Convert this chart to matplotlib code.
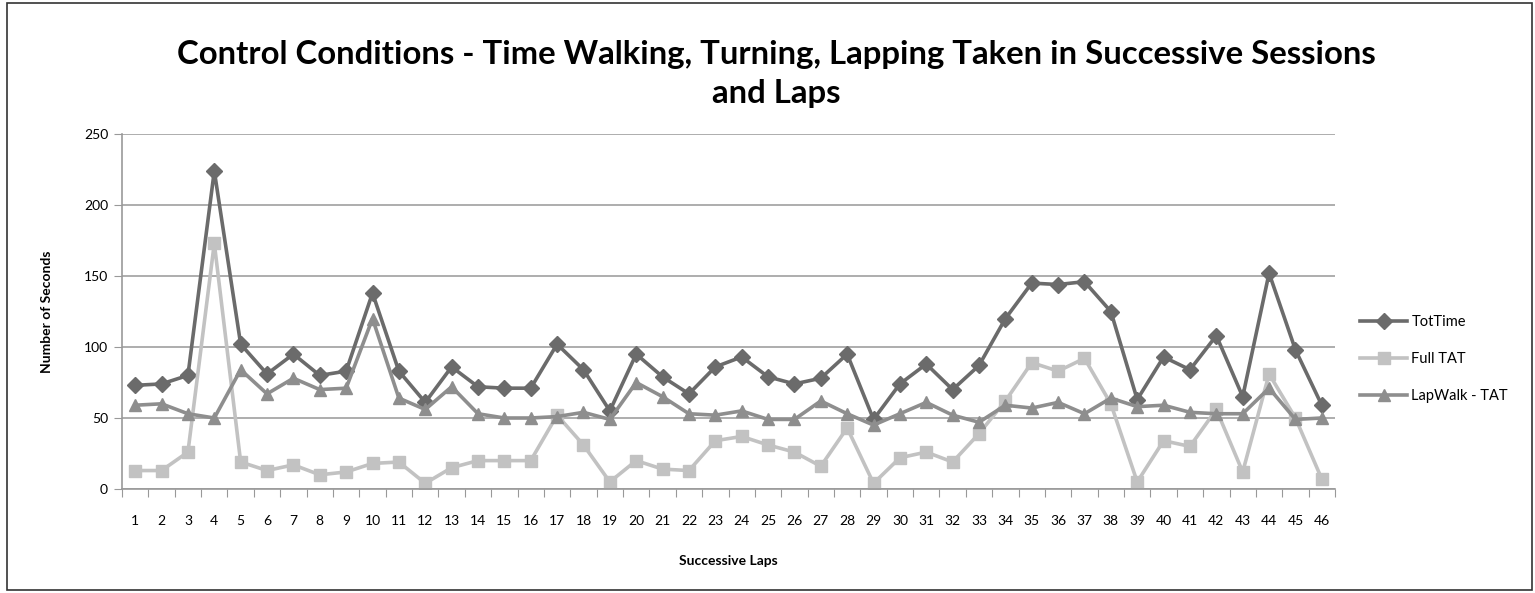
import matplotlib.pyplot as plt
import numpy as np
from matplotlib.patches import Rectangle

laps = list(range(1, 47))

tot_time = [73, 74, 80, 224, 102, 81, 95, 80, 83, 138, 83, 61, 86, 72, 71, 71, 102, 84, 55, 95,
            79, 67, 86, 93, 79, 74, 78, 95, 49, 74, 88, 70, 87, 120, 145, 144, 146, 125, 63, 93,
            84, 108, 65, 152, 98, 59]
full_tat = [13, 13, 26, 173, 19, 13, 17, 10, 12, 18, 19, 4, 15, 20, 20, 20, 52, 31, 5, 20,
            14, 13, 34, 37, 31, 26, 16, 43, 4, 22, 26, 19, 39, 62, 89, 83, 92, 60, 5, 34,
            30, 56, 12, 81, 50, 7]
lapwalk_tat = [59, 60, 53, 50, 84, 67, 78, 70, 71, 120, 64, 56, 72, 53, 50, 50, 51, 54, 49, 75,
               65, 53, 52, 55, 49, 49, 62, 53, 45, 53, 61, 52, 47, 59, 57, 61, 53, 64, 58, 59,
               54, 53, 53, 71, 49, 50]

plt.rcParams['font.family'] = ['Lato', 'DejaVu Sans']

fig = plt.figure(figsize=(15.35, 5.93), dpi=100)
ax = fig.add_axes([122/1535, 104/593, 1213/1535, 355/593])

ax.plot(laps, tot_time, color='#6b6b6b', lw=2.6, marker='D', ms=8, label='TotTime')
ax.plot(laps, full_tat, color='#c2c2c2', lw=2.6, marker='s', ms=9, label='Full TAT')
ax.plot(laps, lapwalk_tat, color='#8e8e8e', lw=2.6, marker='^', ms=9, label='LapWalk - TAT')

ax.set_xlim(0.5, 46.5)
ax.set_ylim(0, 250)
ax.set_yticks(np.arange(0, 251, 50))
ax.yaxis.grid(True, color='#a0a0a0', lw=1.2)
ax.set_axisbelow(True)

ax.set_xticks(np.arange(0.5, 47, 1))
ax.set_xticklabels([])
ax.set_xticks(laps, minor=True)
ax.set_xticklabels([str(i) for i in laps], minor=True, fontsize=10)
ax.tick_params(axis='x', which='minor', length=0, pad=19)
ax.tick_params(axis='x', which='major', length=6, color='#999999', direction='out')
ax.tick_params(axis='y', length=6, color='#999999', labelsize=10, pad=4)

for s in ['top', 'right']:
    ax.spines[s].set_visible(False)
for s in ['left', 'bottom']:
    ax.spines[s].set_color('#999999')
    ax.spines[s].set_linewidth(1.2)

ax.set_xlabel('Successive Laps', fontsize=10, fontweight='bold', labelpad=20)
ax.set_ylabel('Number of Seconds', fontsize=10, fontweight='bold', labelpad=22)

fig.text(776/1535, 1 - 74/593,
         'Control Conditions - Time Walking, Turning, Lapping Taken in Successive Sessions\nand Laps',
         ha='center', va='center', fontsize=23.7, fontweight='bold', linespacing=1.4)

ax.legend(loc='center left', bbox_to_anchor=(1.01, 0.366), frameon=False, fontsize=10.5,
          handlelength=3.2, labelspacing=1.55, handletextpad=0.3)

fig.patches.append(Rectangle((7/1535, 3/593), 1525/1535, 587/593, transform=fig.transFigure,
                             fill=False, edgecolor='#333333', lw=1.2))

fig.savefig('out.png', dpi=100)
